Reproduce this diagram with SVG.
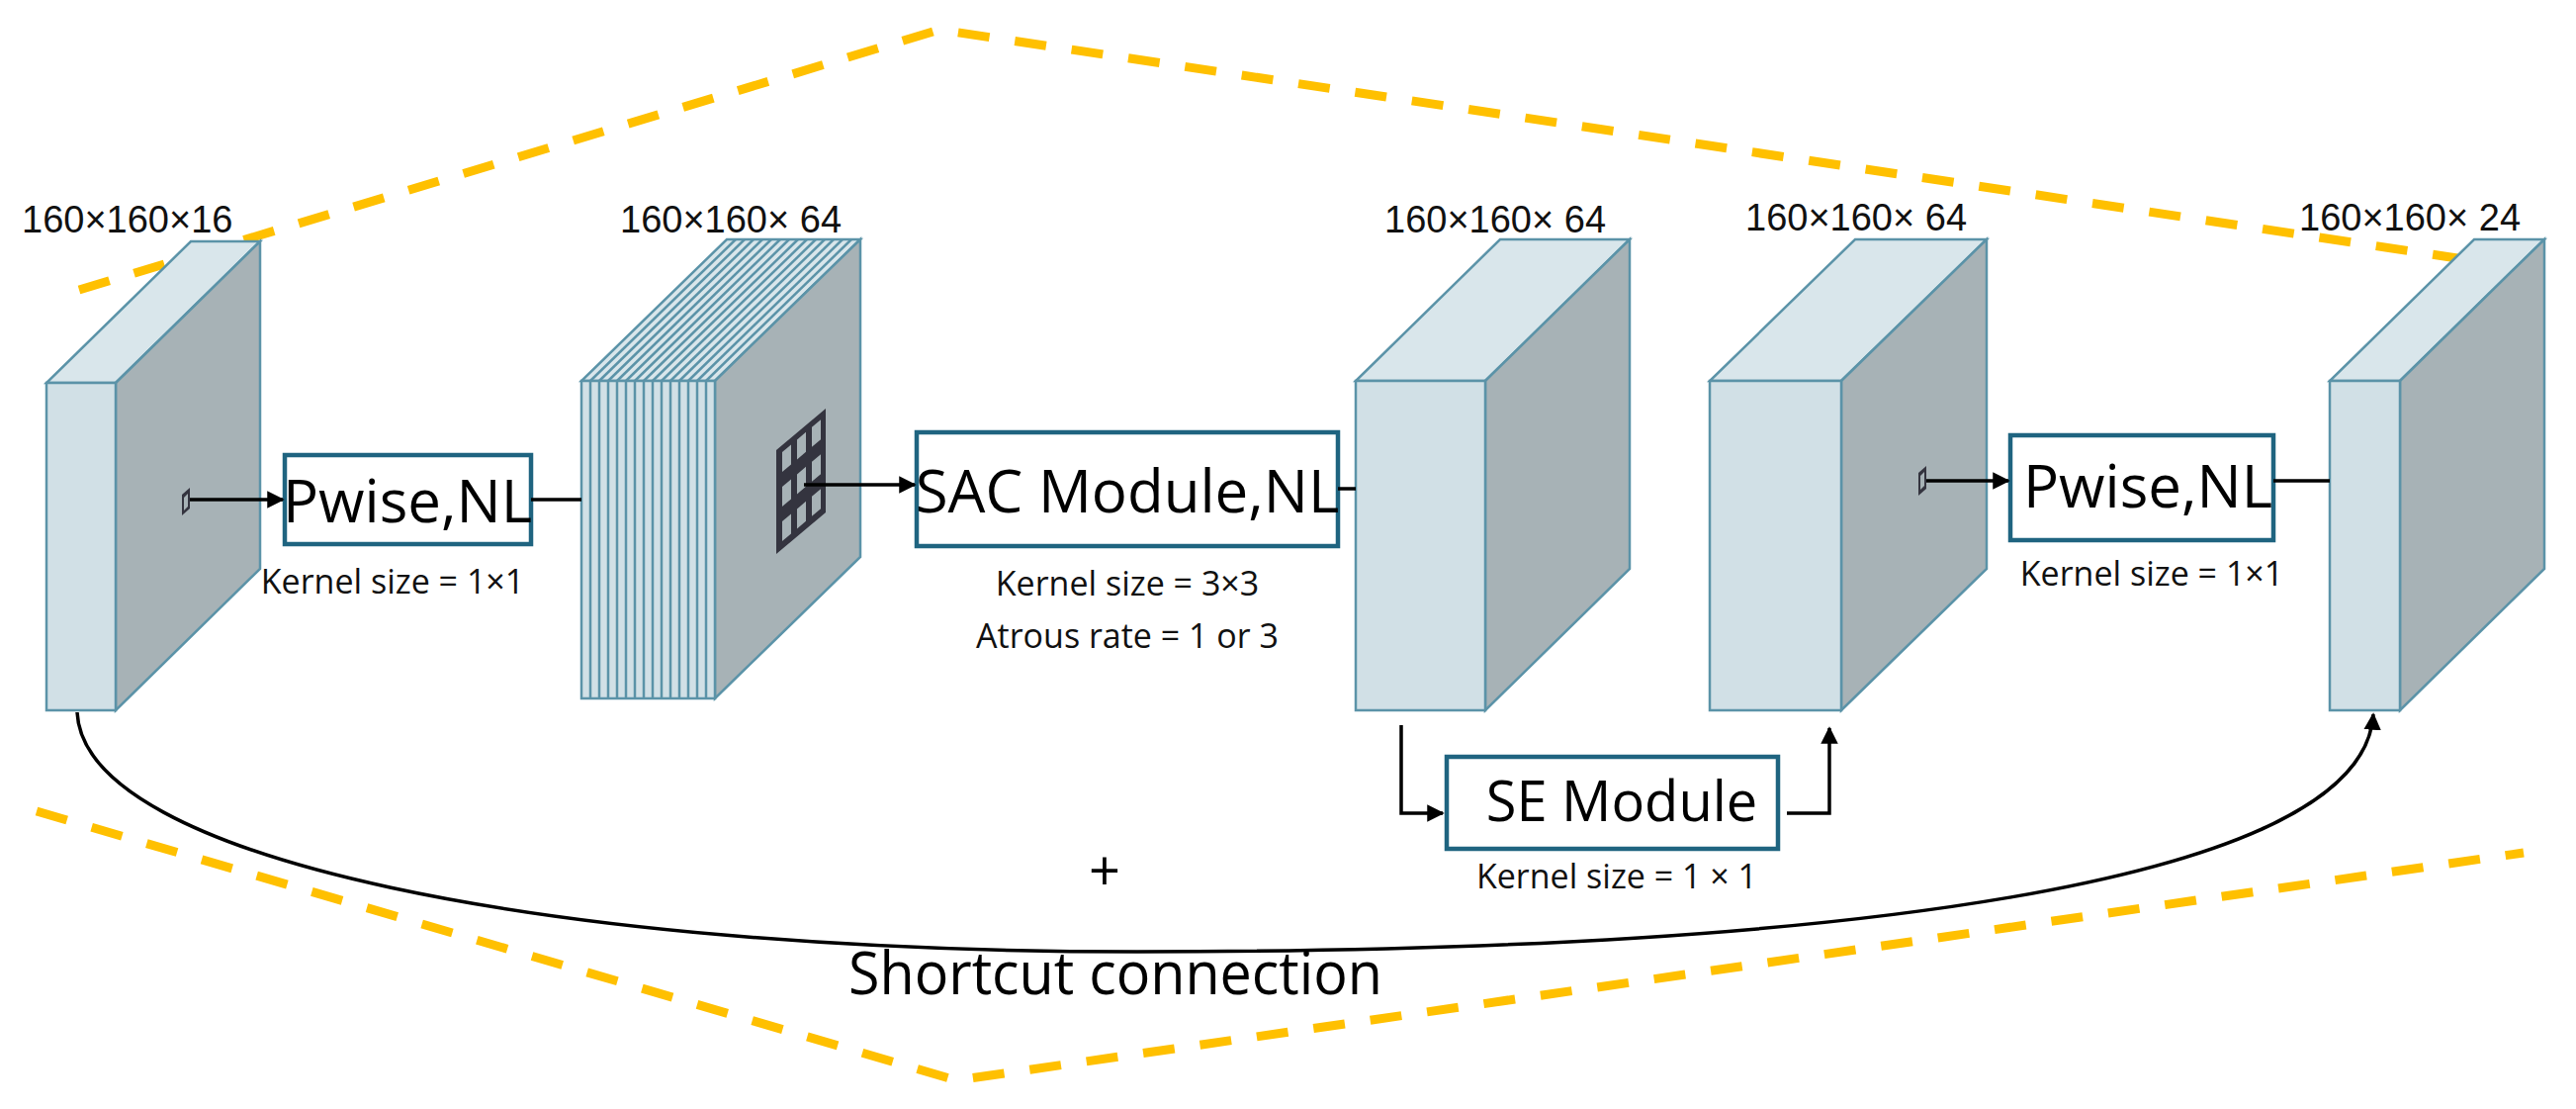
<svg xmlns="http://www.w3.org/2000/svg" width="2605" height="1121" viewBox="0 0 2605 1121">
<style>
.f{fill:#d1e0e6;stroke:#5b93a8;stroke-width:2.5}
.t{fill:#d9e6eb;stroke:#5b93a8;stroke-width:2.5}
.s{fill:#a7b2b6;stroke:#5b93a8;stroke-width:2.5}
.st{stroke:#5b93a8;stroke-width:2.5}
.box{fill:#fff;stroke:#1f6480;stroke-width:4.5}
.lbl{font-family:"Liberation Sans",Arial,sans-serif;font-size:38px;fill:#111}
.big{font-family:"Open Sans","Liberation Sans",sans-serif;font-size:60px;fill:#000}
.k{font-family:"Open Sans","Liberation Sans",sans-serif;font-size:34px;fill:#111}
.dash{fill:none;stroke:#ffc000;stroke-width:9;stroke-dasharray:32 26}
.ln{fill:none;stroke:#000;stroke-width:3.5}
.ic{fill:#34343f}
</style>
<defs>
<marker id="ah" viewBox="0 0 10 10" refX="9" refY="5" markerWidth="5" markerHeight="5" orient="auto"><path d="M0,0L10,5L0,10z" fill="#000"/></marker>
</defs>
<g id="guides">
<polyline class="dash" points="80,293 950,30 2525,267"/>
<polyline class="dash" points="37,820 967,1092 2552,862"/>
</g>
<g id="block1">
<polygon class="t" points="47,387 117,387 263,244 193,244"/>
<polygon class="s" points="117,387 263,244 263,575 117,718"/>
<rect class="f" x="47" y="387" width="70" height="331"/>
<polygon class="ic" points="184,500 192,493 192,514 184,521"/>
<polygon points="186,503 190,499 190,512 186,516" fill="#a7b2b6"/>
<text class="lbl" x="22" y="235">160×160×16</text>
</g>
<g id="block2">
<polygon class="t" points="588,385 723,385 870,242 735,242"/>
<g class="st">
<line x1="597" y1="385" x2="744" y2="242"/><line x1="606" y1="385" x2="753" y2="242"/><line x1="615" y1="385" x2="762" y2="242"/><line x1="624" y1="385" x2="771" y2="242"/><line x1="633" y1="385" x2="780" y2="242"/><line x1="642" y1="385" x2="789" y2="242"/><line x1="651" y1="385" x2="798" y2="242"/><line x1="660" y1="385" x2="807" y2="242"/><line x1="669" y1="385" x2="816" y2="242"/><line x1="678" y1="385" x2="825" y2="242"/><line x1="687" y1="385" x2="834" y2="242"/><line x1="696" y1="385" x2="843" y2="242"/><line x1="705" y1="385" x2="852" y2="242"/><line x1="714" y1="385" x2="861" y2="242"/>
</g>
<polygon class="s" points="723,385 870,242 870,563 723,706"/>
<rect class="f" x="588" y="385" width="135" height="321"/>
<g class="st">
<line x1="597" y1="385" x2="597" y2="706"/><line x1="606" y1="385" x2="606" y2="706"/><line x1="615" y1="385" x2="615" y2="706"/><line x1="624" y1="385" x2="624" y2="706"/><line x1="633" y1="385" x2="633" y2="706"/><line x1="642" y1="385" x2="642" y2="706"/><line x1="651" y1="385" x2="651" y2="706"/><line x1="660" y1="385" x2="660" y2="706"/><line x1="669" y1="385" x2="669" y2="706"/><line x1="678" y1="385" x2="678" y2="706"/><line x1="687" y1="385" x2="687" y2="706"/><line x1="696" y1="385" x2="696" y2="706"/><line x1="705" y1="385" x2="705" y2="706"/><line x1="714" y1="385" x2="714" y2="706"/>
</g>
<g transform="translate(785,455) skewY(-40)">
<rect class="ic" x="0" y="0" width="50" height="105"/>
<g fill="#a7b2b6">
<rect x="6" y="7" width="9" height="20"/><rect x="21" y="7" width="9" height="20"/><rect x="36" y="7" width="9" height="20"/>
<rect x="6" y="42" width="9" height="20"/><rect x="21" y="42" width="9" height="20"/><rect x="36" y="42" width="9" height="20"/>
<rect x="6" y="77" width="9" height="20"/><rect x="21" y="77" width="9" height="20"/><rect x="36" y="77" width="9" height="20"/>
</g>
</g>
<text class="lbl" x="627" y="235">160×160× 64</text>
</g>
<g id="block3">
<polygon class="t" points="1371,385 1502,385 1648,242 1517,242"/>
<polygon class="s" points="1502,385 1648,242 1648,575 1502,718"/>
<rect class="f" x="1371" y="385" width="131" height="333"/>
<text class="lbl" x="1400" y="235">160×160× 64</text>
</g>
<g id="block4">
<polygon class="t" points="1729,385 1862,385 2009,242 1876,242"/>
<polygon class="s" points="1862,385 2009,242 2009,575 1862,718"/>
<rect class="f" x="1729" y="385" width="133" height="333"/>
<polygon class="ic" points="1940,478 1948,471 1948,494 1940,501"/>
<polygon points="1942,481 1946,477 1946,491 1942,495" fill="#a7b2b6"/>
<text class="lbl" x="1765" y="233">160×160× 64</text>
</g>
<g id="block5">
<polygon class="t" points="2356,385 2427,385 2573,242 2502,242"/>
<polygon class="s" points="2427,385 2573,242 2573,575 2427,718"/>
<rect class="f" x="2356" y="385" width="71" height="333"/>
<text class="lbl" x="2325" y="233">160×160× 24</text>
</g>
<g id="pwise1">
<rect class="box" x="288" y="460" width="249" height="90"/>
<text class="big" x="412" y="528" text-anchor="middle">Pwise,NL</text>
<text class="k" x="397" y="600" text-anchor="middle">Kernel size = 1×1</text>
</g>
<g id="sac">
<rect class="box" x="927" y="437" width="426" height="115"/>
<text class="big" x="1140" y="518" text-anchor="middle">SAC Module,NL</text>
<text class="k" x="1140" y="602" text-anchor="middle">Kernel size = 3×3</text>
<text class="k" x="1140" y="655" text-anchor="middle">Atrous rate = 1 or 3</text>
</g>
<g id="pwise2">
<rect class="box" x="2033" y="440" width="266" height="106"/>
<text class="big" x="2172" y="513" text-anchor="middle">Pwise,NL</text>
<text class="k" x="2176" y="592" text-anchor="middle">Kernel size = 1×1</text>
</g>
<g id="se">
<rect class="box" x="1463" y="765" width="335" height="93"/>
<text class="big" x="1640" y="830" text-anchor="middle" style="font-size:56px">SE Module</text>
<text class="k" x="1635" y="898" text-anchor="middle">Kernel size = 1 × 1</text>
</g>
<g id="connectors">
<line class="ln" x1="192" y1="505" x2="286" y2="505" marker-end="url(#ah)"/>
<line class="ln" x1="537" y1="505" x2="588" y2="505"/>
<line class="ln" x1="813" y1="490" x2="925" y2="490" marker-end="url(#ah)"/>
<line class="ln" x1="1353" y1="494" x2="1371" y2="494"/>
<line class="ln" x1="1948" y1="486" x2="2031" y2="486" marker-end="url(#ah)"/>
<line class="ln" x1="2299" y1="486" x2="2356" y2="486"/>
<polyline class="ln" points="1417,733 1417,822 1459,822" marker-end="url(#ah)"/>
<polyline class="ln" points="1807,822 1850,822 1850,736" marker-end="url(#ah)"/>
<path class="ln" d="M78,720 C85,870 560,962 1150,962 C1850,962 2390,895 2400,722" marker-end="url(#ah)"/>
</g>
<g id="labels">
<text class="big" x="1117" y="900" text-anchor="middle" style="font-size:56px">+</text>
<text class="big" x="858" y="1005" textLength="540" lengthAdjust="spacingAndGlyphs">Shortcut connection</text>
</g>
</svg>
